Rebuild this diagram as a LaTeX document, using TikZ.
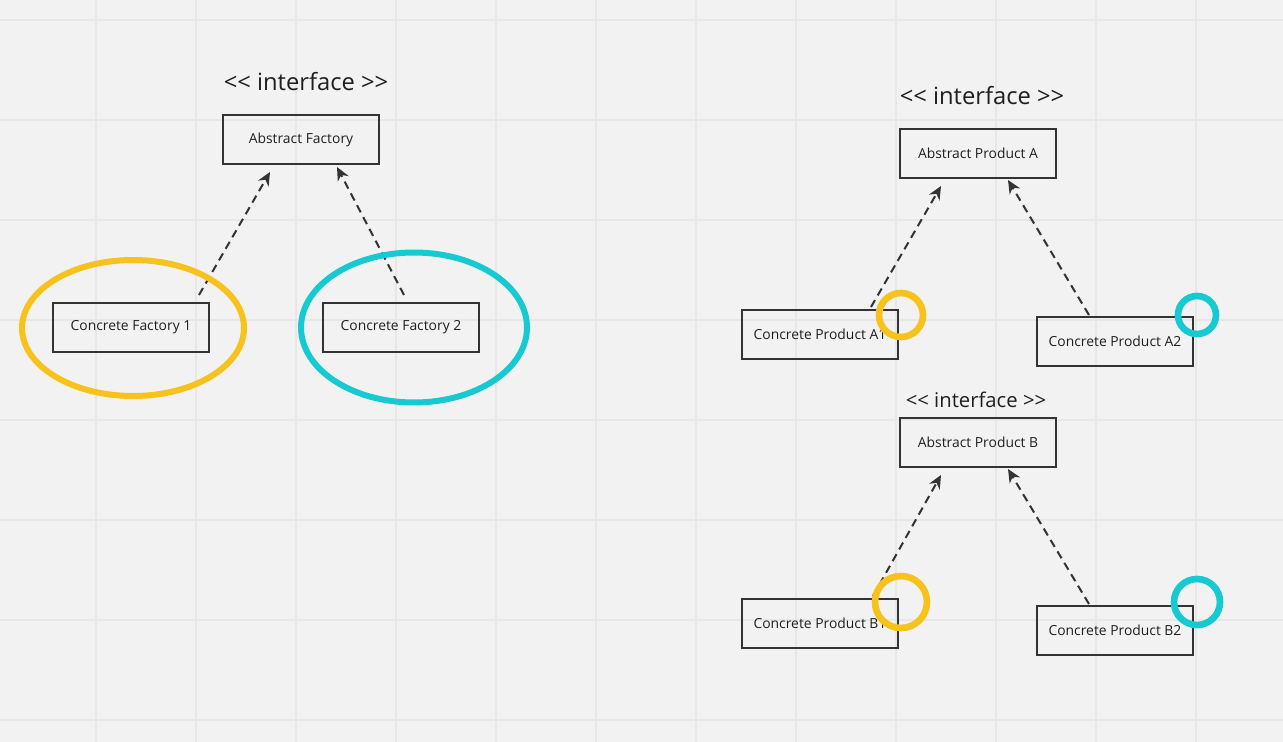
\documentclass[tikz,border=0pt]{standalone}
\usepackage{fontspec}
\setmainfont{Open Sans}
\usetikzlibrary{arrows.meta,calc}
\definecolor{boardbg}{HTML}{F2F2F2}
\definecolor{boardgrid}{HTML}{E7E7E7}
\definecolor{inkgray}{HTML}{333333}
\definecolor{markyellow}{HTML}{F6C21B}
\definecolor{markcyan}{HTML}{17CAD2}
\newcommand{\stereotag}{{<}{<} interface {>}{>}}
\begin{document}
\begin{tikzpicture}[x=0.75pt, y=-0.75pt,
  classbox/.style={draw=inkgray, line width=1.5pt, shape=rectangle, minimum width=117pt, minimum height=36.75pt, inner sep=0pt, text=black!88, font=\fontsize{10.4}{12}\selectfont},
  stereo/.style={text=black!88, font=\fontsize{17.8}{20}\selectfont},
  realizes/.style={draw=inkgray, line width=1.5pt, dash pattern=on 6pt off 4pt, -{Stealth[length=10pt, width=9pt]}},
  gridline/.style={draw=boardgrid, line width=0.9pt},
  yellowring/.style={draw=markyellow, line width=5pt},
  cyanring/.style={draw=markcyan, line width=5pt}]
\useasboundingbox (0,0) rectangle (1283,742);
\fill[boardbg] (0,0) rectangle (1283,742);
\foreach \gx in {96,196,...,1196} \draw[gridline] (\gx,0) -- (\gx,742);
\foreach \gy in {20,120,...,720} \draw[gridline] (0,\gy) -- (1283,\gy);

% factories
\node[stereo] (ifF) at (306,82) {\stereotag};
\node[classbox] (af) at (301,139.5) {Abstract Factory};
\node[classbox] (cf1) at (131,327.5) {Concrete Factory 1};
\node[classbox] (cf2) at (401,327.5) {Concrete Factory 2};
\draw[realizes] ($(cf1.north)+(68,-7)$) -- ($(af.south)+(-31,7)$);
\draw[realizes] ($(cf2.north)+(3,-7)$) -- ($(af.south)+(36,2)$);
\draw[yellowring, line width=4.5pt] (133,328) ellipse [x radius=111, y radius=68];
\draw[cyanring, line width=4.5pt] (414,327.5) ellipse [x radius=113, y radius=75];

% products A
\node[stereo] (ifA) at (982,96) {\stereotag};
\node[classbox] (apa) at (978,153.5) {Abstract Product A};
\node[classbox] (cpa1) at (820,334.5) {Concrete Product A1};
\node[classbox] (cpa2) at (1115,341.5) {Concrete Product A2};
\draw[realizes] ($(cpa1.north)+(51,-2)$) -- ($(apa.south)+(-37,7)$);
\draw[realizes] ($(cpa2.north)+(-26,-1)$) -- ($(apa.south)+(30,1)$);
\draw[yellowring] (901,315) circle [radius=22];
\draw[cyanring] (1197,315) circle [radius=19];

% products B
\node[stereo, font=\fontsize{15.2}{18}\selectfont] (ifB) at (976,400) {\stereotag};
\node[classbox] (apb) at (978,442.5) {Abstract Product B};
\node[classbox] (cpb1) at (820,623.5) {Concrete Product B1};
\node[classbox] (cpb2) at (1115,630.5) {Concrete Product B2};
\draw[realizes] ($(cpb1.north)+(53,-2)$) -- ($(apb.south)+(-37,7)$);
\draw[realizes] ($(cpb2.north)+(-26,-1)$) -- ($(apb.south)+(30,1)$);
\draw[yellowring] (901,602) circle [radius=26];
\draw[cyanring] (1197,602) circle [radius=23];
\end{tikzpicture}
\end{document}
